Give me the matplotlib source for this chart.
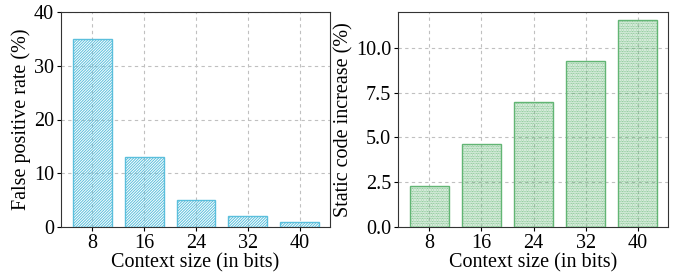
import matplotlib
matplotlib.use("Agg")
import matplotlib.pyplot as plt
import numpy as np

plt.rcParams['font.family'] = ['Liberation Serif', 'DejaVu Serif']
plt.rcParams['hatch.linewidth'] = 0.7

categories = ['8', '16', '24', '32', '40']
fp_rate = [35.0, 13.0, 5.0, 2.0, 1.0]
code_increase = [2.3, 4.65, 6.95, 9.25, 11.55]

blue = '#5bbfdc'
green = '#62b574'

fig = plt.figure(figsize=(6.81, 2.78), dpi=100)
ax1 = fig.add_axes([61/681, 1-227/278, (330-61)/681, (227-12)/278])
ax2 = fig.add_axes([398/681, 1-227/278, (668-398)/681, (227-12)/278])

x = np.arange(len(categories))
fs = 14.5
for ax, vals, col, hatch, ylab in [
    (ax1, fp_rate, blue, '////////////', 'False positive rate (%)'),
    (ax2, code_increase, green, '..........', 'Static code increase (%)'),
]:
    ax.grid(True, linestyle=(0, (3, 3)), color='#c0c0c0', linewidth=0.8)
    ax.set_axisbelow(True)
    ax.bar(x, vals, width=0.75, facecolor='none', edgecolor=col, hatch=hatch, linewidth=1.0, zorder=3)
    ax.set_xticks(x)
    ax.set_xticklabels(categories)
    ax.set_xlim(-0.6, 4.58)
    ax.set_xlabel('Context size (in bits)', fontsize=fs, labelpad=0)
    ax.set_ylabel(ylab, fontsize=fs, labelpad=2)
    ax.tick_params(labelsize=fs, length=3, pad=2)
    for s in ax.spines.values():
        s.set_color('#333333')

ax1.set_ylim(0, 40)
ax1.set_yticks([0, 10, 20, 30, 40])
ax2.set_ylim(0, 12)
ax2.set_yticks([0, 2.5, 5, 7.5, 10])
ax2.set_yticklabels(['0.0', '2.5', '5.0', '7.5', '10.0'])

fig.savefig('out.png', dpi=100)
